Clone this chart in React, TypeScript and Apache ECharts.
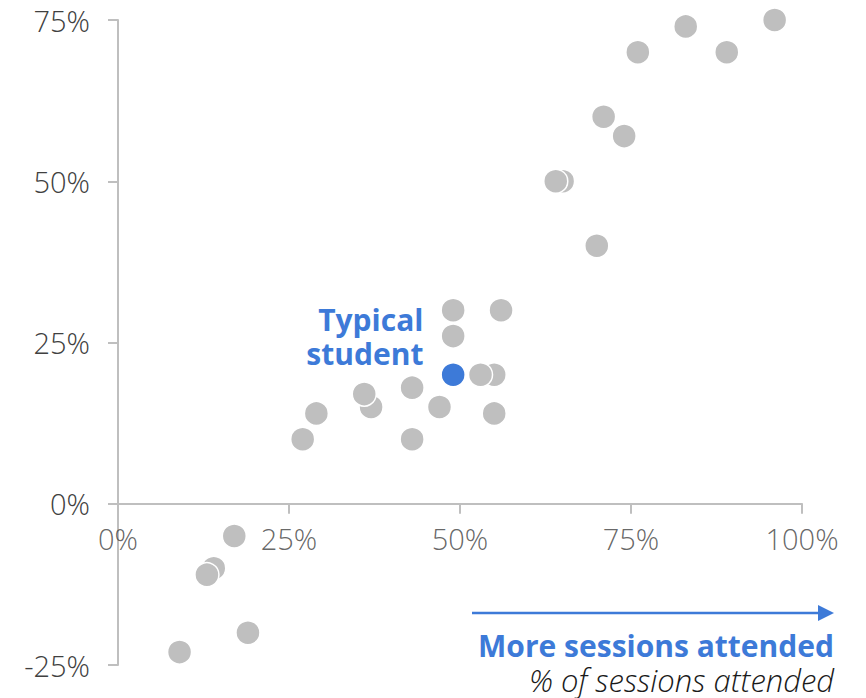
import React, { useEffect, useRef } from "react";
import * as echarts from "echarts";

// % of sessions attended (x) vs. outcome change (y)
const sessionsPct: number[] = [96, 83, 89, 76, 71, 74, 65, 64, 70, 56, 49, 49, 55, 53, 43, 37, 36, 47, 55, 29, 27, 43, 17, 14, 13, 19, 9];
const outcomePct: number[] = [75, 74, 70, 70, 60, 57, 50, 50, 40, 30, 30, 26, 20, 20, 18, 15, 17, 15, 14, 14, 10, 10, -5, -10, -11, -20, -23];
const typicalStudent: [number, number] = [49, 20];
const typicalLabel = "Typical\nstudent";
const arrowLabel = "More sessions attended";
const xAxisTitle = "% of sessions attended";
const xTicks = [0, 25, 50, 75, 100];
const yTicks = [-25, 0, 25, 50, 75];

const GRAY = "#bfbfbf";
const BLUE = "#3d7ad8";
const LABEL = "#404040";
const FONT = "'Open Sans', sans-serif";

export default function App() {
  const ref = useRef<HTMLDivElement>(null);
  useEffect(() => {
    if (!ref.current) return;
    const chart = echarts.init(ref.current, undefined, { renderer: "svg" });
    const points = sessionsPct.map((x, i) => [x, outcomePct[i]]);
    chart.setOption({
      animation: false,
      grid: { left: 118, top: 20, width: 684, height: 645, containLabel: false, outerBoundsMode: "none" },
      xAxis: {
        type: "value",
        min: xTicks[0],
        max: xTicks[xTicks.length - 1],
        interval: 25,
        splitLine: { show: false },
        axisLine: { show: true, onZero: true, lineStyle: { color: GRAY, width: 2 } },
        axisTick: { show: true, length: 10, lineStyle: { color: GRAY, width: 2 } },
        axisLabel: { show: false },
      },
      yAxis: {
        type: "value",
        min: yTicks[0],
        max: yTicks[yTicks.length - 1],
        interval: 25,
        splitLine: { show: false },
        axisLine: { show: true, onZero: false, lineStyle: { color: GRAY, width: 2 } },
        axisTick: { show: true, length: 10, lineStyle: { color: GRAY, width: 2 } },
        axisLabel: {
          formatter: "{value}%",
          margin: 28,
          color: LABEL,
          fontSize: 29,
          fontWeight: 300,
          fontFamily: FONT,
        },
      },
      series: [
        {
          // x tick labels placed on the zero line
          type: "scatter",
          data: xTicks.map((t) => [t, 0]),
          symbolSize: 0.1,
          itemStyle: { color: "rgba(0,0,0,0)" },
          silent: true,
          z: 1,
          label: {
            show: true,
            position: "bottom",
            distance: 20,
            formatter: (p: any) => `${p.value[0]}%`,
            color: LABEL,
            fontSize: 29,
            fontWeight: 300,
            fontFamily: FONT,
          },
        },
        {
          type: "scatter",
          data: points,
          symbolSize: 24,
          itemStyle: { color: GRAY, borderColor: "#ffffff", borderWidth: 1.5, opacity: 1 },
          z: 2,
        },
        {
          type: "scatter",
          data: [typicalStudent],
          symbolSize: 24,
          itemStyle: { color: BLUE, borderColor: "#ffffff", borderWidth: 1.5, opacity: 1 },
          z: 3,
          label: {
            show: true,
            position: "left",
            distance: 17,
            offset: [0, -38],
            formatter: typicalLabel,
            align: "right",
            color: BLUE,
            fontSize: 30,
            fontWeight: "bold",
            fontFamily: FONT,
            lineHeight: 34,
          },
        },
      ],
      graphic: [
        {
          type: "line",
          shape: { x1: 472, y1: 613, x2: 822, y2: 613 },
          style: { stroke: BLUE, lineWidth: 2.5 },
        },
        {
          type: "polygon",
          shape: { points: [[818, 605], [834, 613], [818, 621]] },
          style: { fill: BLUE },
        },
        {
          type: "text",
          x: 834,
          y: 645,
          style: {
            text: arrowLabel,
            align: "right",
            verticalAlign: "middle",
            fill: BLUE,
            font: `bold 30px ${FONT}`,
          },
        },
        {
          type: "text",
          x: 834,
          y: 680,
          style: {
            text: xAxisTitle,
            align: "right",
            verticalAlign: "middle",
            fill: "#1a1a1a",
            font: `italic 300 31px ${FONT}`,
          },
        },
      ],
    });
    return () => chart.dispose();
  }, []);
  return (
    <div
      ref={ref}
      style={{ position: "fixed", left: 0, top: 0, width: 866, height: 698, background: "#fff" }}
    />
  );
}
